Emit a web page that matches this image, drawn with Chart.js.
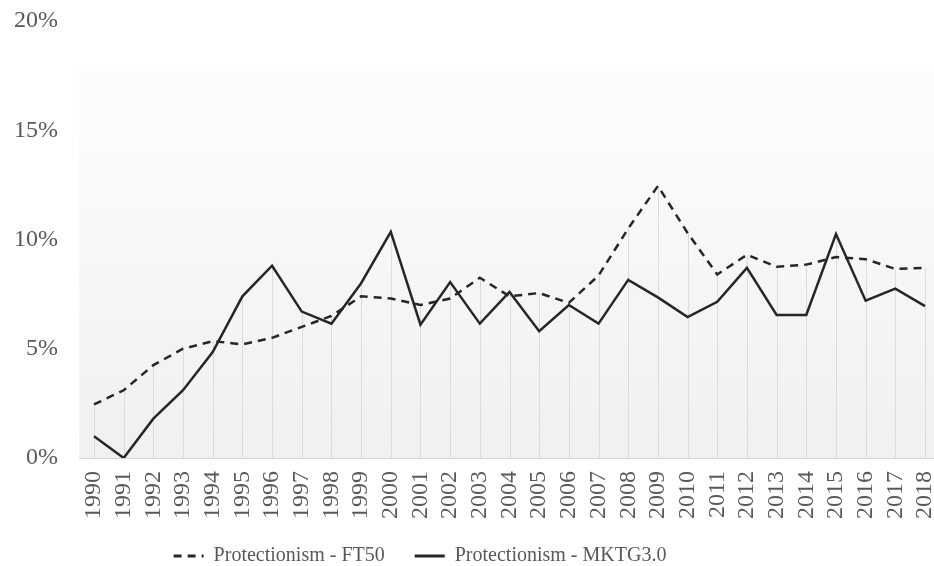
<!DOCTYPE html>
<html>
<head>
<meta charset="utf-8">
<script src="https://cdn.jsdelivr.net/npm/chart.js@4.4.1/dist/chart.umd.min.js"></script>
<style>
	html, body { margin: 0; padding: 0; background: #ffffff; }
	#wrap { width: 934px; height: 566px; }
</style>
</head>
<body>
<div id="wrap"><canvas id="chart" width="934" height="566"></canvas></div>
<script>
var years = ['1990', '1991', '1992', '1993', '1994', '1995', '1996', '1997', '1998', '1999',
	'2000', '2001', '2002', '2003', '2004', '2005', '2006', '2007', '2008', '2009',
	'2010', '2011', '2012', '2013', '2014', '2015', '2016', '2017', '2018'];

var ft50 = [2.45, 3.1, 4.25, 5.0, 5.35, 5.2, 5.5, 6.0, 6.5, 7.4,
	7.3, 7.0, 7.3, 8.25, 7.4, 7.55, 7.1, 8.35, 10.5, 12.45,
	10.3, 8.4, 9.3, 8.75, 8.85, 9.2, 9.1, 8.65, 8.7];

var mktg = [1.0, 0.0, 1.8, 3.1, 4.85, 7.4, 8.8, 6.7, 6.15, 8.0,
	10.35, 6.1, 8.05, 6.15, 7.6, 5.8, 7.0, 6.15, 8.15, 7.35,
	6.45, 7.15, 8.7, 6.55, 6.55, 10.25, 7.2, 7.75, 6.95];

var yTicks = [0, 5, 10, 15, 20];

var textColor = '#595959';
var fontFamily = '"Liberation Serif", "Times New Roman", serif';

// gradient panel, drop lines and baseline behind the series
var backdrop = {
	id: 'backdrop',
	beforeDatasetsDraw: (chart) => {
		var ctx = chart.ctx;
		var area = chart.chartArea;
		var x = chart.scales.x;
		var y = chart.scales.y;
		var half = (x.getPixelForValue(1) - x.getPixelForValue(0)) / 2;
		var top = y.getPixelForValue(18);
		var bottom = y.getPixelForValue(0);

		ctx.save();
		var grad = ctx.createLinearGradient(0, top, 0, bottom);
		grad.addColorStop(0, '#fdfdfd');
		grad.addColorStop(1, '#eff0f2');
		ctx.fillStyle = grad;
		ctx.fillRect(area.left - half, top, chart.width - (area.left - half), bottom - top);

		ctx.strokeStyle = '#dcdcdc';
		ctx.lineWidth = 1;
		var a = chart.data.datasets[0].data;
		var b = chart.data.datasets[1].data;
		for (var i = 0; i < a.length; i++) {
			var px = Math.round(x.getPixelForValue(i)) + 0.5;
			ctx.beginPath();
			ctx.moveTo(px, bottom);
			ctx.lineTo(px, y.getPixelForValue(Math.max(a[i], b[i])));
			ctx.stroke();
		}

		ctx.strokeStyle = '#d6d6d6';
		ctx.beginPath();
		ctx.moveTo(area.left - half, Math.round(bottom) + 0.5);
		ctx.lineTo(chart.width, Math.round(bottom) + 0.5);
		ctx.stroke();
		ctx.restore();
	}
};

// move the legend so it sits where the reference puts it
var legendShift = {
	id: 'legendShift',
	afterLayout: (chart) => {
		var lg = chart.legend;
		var dx = 420 - (lg.left + lg.right) / 2;
		lg.left += dx;
		lg.right += dx;
		var lbl = lg.options.labels;
		lg.top = 556 - lbl.padding - lbl.font.size / 2;
		lg.bottom = lg.top + lg.height;
	}
};

var config = {
	type: 'line',
	data: {
		labels: years,
		datasets: [
			{
				label: 'Protectionism - FT50',
				data: ft50,
				borderColor: '#262626',
				backgroundColor: '#262626',
				borderWidth: 2.5,
				borderDash: [8, 6],
				pointRadius: 0,
				tension: 0
			},
			{
				label: 'Protectionism - MKTG3.0',
				data: mktg,
				borderColor: '#262626',
				backgroundColor: '#262626',
				borderWidth: 2.5,
				pointRadius: 0,
				tension: 0
			}
		]
	},
	options: {
		responsive: false,
		animation: false,
		events: [],
		layout: { padding: { left: 0, right: 9, top: 21, bottom: -40 } },
		plugins: {
			tooltip: { enabled: false },
			legend: {
				position: 'bottom',
				labels: {
					usePointStyle: true,
					pointStyle: 'line',
					pointStyleWidth: 30,
					boxHeight: 14,
					padding: 30,
					color: textColor,
					font: { family: fontFamily, size: 20 },
					generateLabels: (chart) => {
						var items = Chart.defaults.plugins.legend.labels.generateLabels(chart);
						items.forEach((item) => {
							var ds = chart.data.datasets[item.datasetIndex];
							item.lineDash = ds.borderDash || [];
							item.lineWidth = 3;
							item.strokeStyle = ds.borderColor;
						});
						return items;
					}
				}
			}
		},
		scales: {
			x: {
				offset: false,
				grid: { display: false, drawTicks: false },
				border: { display: false },
				ticks: {
					autoSkip: false,
					minRotation: 90,
					maxRotation: 90,
					padding: 13,
					color: textColor,
					font: { family: fontFamily, size: 24 }
				},
				afterFit: (scale) => {
					scale.height = 566 + 40 - 458 - scale.chart.legend.height;
					scale.paddingLeft = 0;
					scale.paddingRight = 0;
				}
			},
			y: {
				min: 0,
				max: 20,
				afterBuildTicks: (scale) => {
					scale.ticks = yTicks.map(v => ({ value: v }));
				},
				grid: { display: false, drawTicks: false },
				border: { display: false },
				ticks: {
					padding: 36,
					color: textColor,
					font: { family: fontFamily, size: 24 },
					callback: (v) => v + '%'
				},
				afterFit: (scale) => {
					scale.width = 94;
					scale.paddingTop = 0;
					scale.paddingBottom = 0;
				}
			}
		}
	},
	plugins: [backdrop, legendShift]
};

new Chart(document.getElementById('chart').getContext('2d'), config);
</script>
</body>
</html>
